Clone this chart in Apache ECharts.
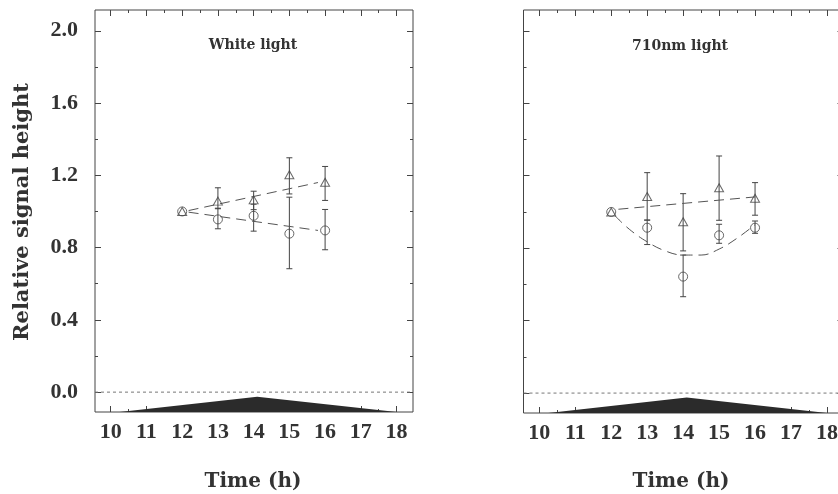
<!DOCTYPE html>
<html>
<head>
<meta charset="utf-8">
<script src="https://cdn.jsdelivr.net/npm/echarts@6/dist/echarts.min.js"></script>
<style>
  html, body { margin: 0; padding: 0; background: #fff; }
  #chart { width: 838px; height: 494px; }
</style>
</head>
<body>
<div id="chart"></div>
<script>
// axis ranges and ticks
const xMin = 9.56, xMax = 18.46
const yMin = -0.11, yMax = 2.115
const hourTicks = [10, 11, 12, 13, 14, 15, 16, 17, 18]
const halfTicks = [10.5, 11.5, 12.5, 13.5, 14.5, 15.5, 16.5, 17.5]
const yLabelTicks = [0, 0.4, 0.8, 1.2, 1.6, 2.0]
const yMinorTicks = [0.2, 0.6, 1.0, 1.4, 1.8]

const hours = [12, 13, 14, 15, 16]

// White light
const whiteTri = [1.0, 1.057, 1.064, 1.203, 1.162]
const whiteTriHi = [null, 1.131, 1.112, 1.297, 1.249]
const whiteTriLo = [null, 1.015, 1.01, 1.097, 1.061]
const whiteCirc = [1.0, 0.956, 0.976, 0.877, 0.895]
const whiteCircHi = [null, 1.018, 1.04, 1.079, 1.011]
const whiteCircLo = [null, 0.904, 0.891, 0.683, 0.788]
const whiteTriFitX = [12.18, 15.8]
const whiteTriFitY = [1.005, 1.16]
const whiteCircFitX = [12.18, 15.8]
const whiteCircFitY = [0.996, 0.895]

// 710nm light
const farTri = [1.0, 1.085, 0.946, 1.134, 1.076]
const farTriHi = [null, 1.217, 1.101, 1.309, 1.162]
const farTriLo = [null, 0.955, 0.785, 0.954, 0.982]
const farCirc = [1.0, 0.913, 0.643, 0.871, 0.913]
const farCircHi = [null, 0.955, 0.762, 0.932, 0.95]
const farCircLo = [null, 0.82, 0.532, 0.827, 0.882]
const farTriFitX = [12.2, 16.0]
const farTriFitY = [1.015, 1.083]
const farCircFitX = [12.1, 12.5, 13, 13.5, 14, 14.5, 15, 15.5, 16]
const farCircFitY = [0.98, 0.905, 0.835, 0.785, 0.762, 0.762, 0.795, 0.855, 0.93]

// light period (black triangle at the bottom)
const lightX = [10.25, 14.1, 18.0]
const lightY = [-0.11, -0.025, -0.11]

const ink = '#333'
const frame = '#444'
const numFont = 'Liberation Serif'

let chart = echarts.init(document.getElementById('chart'))

function zip(xs, ys) {
  return xs.map((x, i) => [x, ys[i]])
}

function xAxisOf(gi, pos, ticks, len, labels) {
  return {
    type: 'value', gridIndex: gi, position: pos, min: xMin, max: xMax,
    axisLine: {show: false, onZero: false}, splitLine: {show: false},
    axisTick: {show: true, inside: true, length: len, customValues: ticks, lineStyle: {color: frame, width: 1}},
    axisLabel: labels ? {
      show: true, customValues: hourTicks, margin: 9, color: ink,
      fontFamily: numFont, fontWeight: 'bold', fontSize: 22,
      formatter: v => String(Math.round(v))
    } : {show: false}
  }
}

function yAxisOf(gi, pos, ticks, len, labels) {
  return {
    type: 'value', gridIndex: gi, position: pos, min: yMin, max: yMax,
    axisLine: {show: false, onZero: false}, splitLine: {show: false},
    axisTick: {show: true, inside: true, length: len, customValues: ticks, lineStyle: {color: frame, width: 1}},
    axisLabel: labels ? {
      show: true, customValues: yLabelTicks, margin: 17, color: ink,
      fontFamily: numFont, fontWeight: 'bold', fontSize: 22,
      formatter: v => v.toFixed(1)
    } : {show: false}
  }
}

function errorBars(gi, lo, hi) {
  const data = []
  hours.forEach((h, i) => {
    if (lo[i] != null) data.push([h, lo[i], hi[i]])
  })
  return {
    type: 'custom', xAxisIndex: gi * 4, yAxisIndex: gi * 4,
    encode: {x: 0, y: [1, 2]},
    data: data,
    renderItem: (params, api) => {
      const top = api.coord([api.value(0), api.value(2)])
      const bot = api.coord([api.value(0), api.value(1)])
      const w = 3
      const st = {stroke: '#444', lineWidth: 1}
      return {
        type: 'group', children: [
          {type: 'line', shape: {x1: top[0], y1: top[1], x2: bot[0], y2: bot[1]}, style: st},
          {type: 'line', shape: {x1: top[0] - w, y1: top[1], x2: top[0] + w, y2: top[1]}, style: st},
          {type: 'line', shape: {x1: bot[0] - w, y1: bot[1], x2: bot[0] + w, y2: bot[1]}, style: st}
        ]
      }
    }
  }
}

function markers(gi, ys, symbol, size) {
  return {
    type: 'scatter', xAxisIndex: gi * 4, yAxisIndex: gi * 4,
    symbol: symbol, symbolSize: size,
    itemStyle: {color: 'rgba(0,0,0,0)', borderColor: '#444', borderWidth: 1},
    data: zip(hours, ys), z: 4
  }
}

function fitLine(gi, xs, ys, smooth) {
  return {
    type: 'line', xAxisIndex: gi * 4, yAxisIndex: gi * 4,
    symbol: 'none', smooth: smooth ? 0.4 : false,
    lineStyle: {color: '#555', width: 1, type: [10, 6]},
    data: zip(xs, ys), z: 3
  }
}

function baseSeries(gi) {
  return [
    {
      type: 'line', xAxisIndex: gi * 4, yAxisIndex: gi * 4, symbol: 'none',
      lineStyle: {color: '#777', width: 1, type: [3, 3]},
      data: [[xMin, 0], [xMax, 0]]
    },
    {
      type: 'line', xAxisIndex: gi * 4, yAxisIndex: gi * 4, symbol: 'none',
      lineStyle: {width: 0},
      areaStyle: {color: '#2b2b2b', opacity: 1, origin: 'start'},
      data: zip(lightX, lightY)
    }
  ]
}

function axesFor(gi, labels) {
  return {
    x: [
      xAxisOf(gi, 'bottom', hourTicks, 6, labels.x),
      xAxisOf(gi, 'bottom', halfTicks, 3, false),
      xAxisOf(gi, 'top', hourTicks, 6, false),
      xAxisOf(gi, 'top', halfTicks, 3, false)
    ],
    y: [
      yAxisOf(gi, 'left', yLabelTicks, 6, labels.y),
      yAxisOf(gi, 'left', yMinorTicks, 3, false),
      yAxisOf(gi, 'right', yLabelTicks, 6, false),
      yAxisOf(gi, 'right', yMinorTicks, 3, false)
    ]
  }
}

const a0 = axesFor(0, {x: true, y: true})
const a1 = axesFor(1, {x: true, y: false})

const gridStyle = {show: true, borderColor: frame, borderWidth: 1, backgroundColor: 'transparent', outerBoundsMode: 'none'}

function label(text, x, y, size, rot) {
  return {
    type: 'text', x: x, y: y, rotation: rot || 0,
    style: {
      text: text, fill: ink, font: 'bold ' + size + 'px "DejaVu Serif"',
      textAlign: 'center', textVerticalAlign: 'middle', align: 'center', verticalAlign: 'middle'
    }
  }
}

let option = {
  animation: false,
  backgroundColor: '#fff',
  grid: [
    Object.assign({left: 95, top: 10, width: 318, height: 402}, gridStyle),
    Object.assign({left: 523.5, top: 10, width: 320, height: 403}, gridStyle)
  ],
  xAxis: a0.x.concat(a1.x),
  yAxis: a0.y.concat(a1.y),
  graphic: [
    label('Relative signal height', 23, 212, 21, Math.PI / 2),
    label('White light', 253, 45, 14),
    label('710nm light', 680, 46, 14),
    label('Time (h)', 253, 482, 20),
    label('Time (h)', 681, 482, 20)
  ],
  series: [].concat(
    baseSeries(0),
    [
      fitLine(0, whiteTriFitX, whiteTriFitY, false),
      fitLine(0, whiteCircFitX, whiteCircFitY, false),
      errorBars(0, whiteTriLo, whiteTriHi),
      errorBars(0, whiteCircLo, whiteCircHi),
      markers(0, whiteTri, 'triangle', [9, 8]),
      markers(0, whiteCirc, 'circle', 9)
    ],
    baseSeries(1),
    [
      fitLine(1, farTriFitX, farTriFitY, false),
      fitLine(1, farCircFitX, farCircFitY, true),
      errorBars(1, farTriLo, farTriHi),
      errorBars(1, farCircLo, farCircHi),
      markers(1, farTri, 'triangle', [9, 8]),
      markers(1, farCirc, 'circle', 9)
    ]
  )
}

chart.setOption(option)
</script>
</body>
</html>
